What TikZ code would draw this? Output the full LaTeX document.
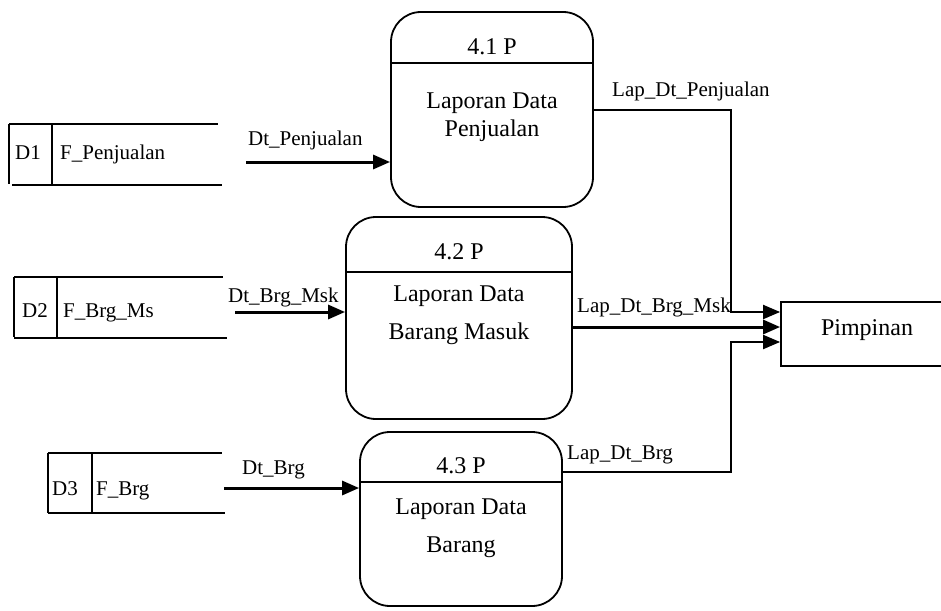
\documentclass[tikz,border=0pt]{standalone}
\usepackage{fontspec}
\setmainfont{Liberation Serif}
\usetikzlibrary{arrows.meta}
\begin{document}
\begin{tikzpicture}[x=1pt,y=-1pt,
  proc/.style={draw,line width=1.8pt,rounded corners=30pt,inner sep=0pt},
  ext/.style={draw,line width=1.8pt,inner sep=0pt},
  big/.style={font=\fontsize{24}{28}\selectfont,inner sep=0pt},
  lbl/.style={font=\fontsize{21}{24}\selectfont,inner sep=0pt,anchor=base west},
  flow/.style={line width=3pt,-{Triangle[length=17pt,width=14pt]}},
  thinflow/.style={line width=2pt,-{Triangle[length=17pt,width=14pt]}},
  store/.style={line width=1.8pt}]
\useasboundingbox (0,0) rectangle (941,610);
% processes
\node[proc,minimum width=202pt,minimum height=195pt] (p1) at (492,109.5) {};
\node[proc,minimum width=226pt,minimum height=202pt] (p2) at (459,318) {};
\node[proc,minimum width=202pt,minimum height=174pt] (p3) at (461,519) {};
\draw[line width=1.8pt] (p1.west |- 0,63) -- (p1.east |- 0,63);
\draw[line width=1.8pt] (p2.west |- 0,272) -- (p2.east |- 0,272);
\draw[line width=1.8pt] (p3.west |- 0,482) -- (p3.east |- 0,482);
\node[big] (p1id) at (492,47) {4.1 P};
\node[big,align=center] (p1t) at (492,117) {Laporan Data\\Penjualan};
\node[big] (p2id) at (459,252) {4.2 P};
\node[big,align=center] (p2t) at (459,315) {Laporan Data\\[10pt]Barang Masuk};
\node[big] (p3id) at (461,466) {4.3 P};
\node[big,align=center] (p3t) at (461,528) {Laporan Data\\[10pt]Barang};
% external entity
\node[ext,minimum width=164pt,minimum height=64pt] (pim) at (863,334) {};
\node[big] (pimt) at (867,330) {Pimpinan};
% data stores
\draw[store] (9,124) -- (218,124);
\draw[store] (9,124) -- (9,184);
\draw[store] (12,185) -- (222,185);
\draw[store] (52,124) -- (52,185);
\node[lbl] (d1) at (15,159) {D1};
\node[lbl] (f1) at (60,159) {F\_Penjualan};
\coordinate (s1) at (246,162);

\draw[store] (14,277) -- (223,277);
\draw[store] (14,277) -- (14,337);
\draw[store] (14,338) -- (227,338);
\draw[store] (57,277) -- (57,338);
\node[lbl] (d2) at (22,317) {D2};
\node[lbl] (f2) at (63,317) {F\_Brg\_Ms};
\coordinate (s2) at (235,312);

\draw[store] (48,453) -- (222,453);
\draw[store] (48,453) -- (48,513);
\draw[store] (48,513) -- (225,513);
\draw[store] (92,453) -- (92,513);
\node[lbl] (d3) at (52,495) {D3};
\node[lbl] (f3) at (96,495) {F\_Brg};
\coordinate (s3) at (224,488);
% flows in
\draw[flow] (s1) -- (p1.west |- s1);
\node[lbl] (l1) at (248,145) {Dt\_Penjualan};
\draw[flow] (s2) -- (p2.west |- s2);
\node[lbl] (l2) at (228,302) {Dt\_Brg\_Msk};
\draw[flow] (s3) -- (p3.west |- s3);
\node[lbl] (l3) at (242,474) {Dt\_Brg};
% flows out
\coordinate (b1) at (731,110);
\coordinate (b3) at (731,472);
\draw[thinflow] (p1.east |- b1) -- (b1) -- (b1 |- 0,312) -- (pim.west |- 0,312);
\node[lbl] (l4) at (612,96) {Lap\_Dt\_Penjualan};
\draw[flow] (p2.east |- 0,327) -- (pim.west |- 0,327);
\node[lbl] (l5) at (577,312) {Lap\_Dt\_Brg\_Msk};
\draw[thinflow] (p3.east |- b3) -- (b3) -- (b3 |- 0,342) -- (pim.west |- 0,342);
\node[lbl] (l6) at (567,459) {Lap\_Dt\_Brg};
\end{tikzpicture}
\end{document}
